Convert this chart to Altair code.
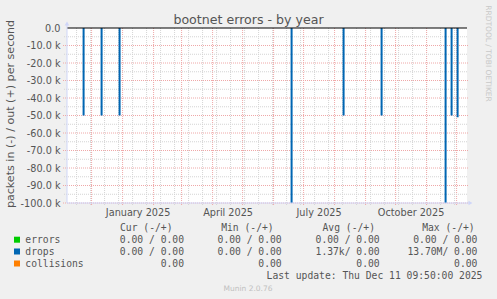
import altair as alt
import pandas as pd

# ---------------- data ----------------
spike_dates = ["2024-11-23", "2024-12-11", "2024-12-29", "2025-06-19", "2025-08-10",
               "2025-09-17", "2025-11-20", "2025-11-26", "2025-12-02"]
drops_in = [-50000, -50000, -50000, -13700000, -50000, -50000, -2000000, -50000, -51000]

x_label_dates = ["2025-01-16", "2025-04-16", "2025-07-16", "2025-10-16"]
y_ticks = [0, -10000, -20000, -30000, -40000, -50000, -60000, -70000, -80000, -90000, -100000]

series_names = ["errors", "drops", "collisions"]
series_colors = ["#00CC00", "#0066B3", "#FF8000"]
cur_vals = ["0.00 / 0.00", "0.00 / 0.00", "0.00"]
min_vals = ["0.00 / 0.00", "0.00 / 0.00", "0.00"]
avg_vals = ["0.00 / 0.00", "1.37k/ 0.00", "0.00"]
max_vals = ["0.00 / 0.00", "13.70M/ 0.00", "0.00"]
headers = ["Cur (-/+)", "Min (-/+)", "Avg (-/+)", "Max (-/+)"]

title_text = "bootnet errors - by year"
y_title = "packets in (-) / out (+) per second"
last_update = "Last update: Thu Dec 11 09:50:00 2025"

# ---------------- layout helpers ----------------
L, T = 67, 28          # plot origin in the page
W, H = 400, 175
end = pd.Timestamp("2025-12-11 09:50:00")
start = end - pd.Timedelta(days=400)

month_grid = [d.strftime("%Y-%m-%d") for d in pd.date_range("2024-12-01", "2025-12-01", freq="MS")]
minor_grid = [d.strftime("%Y-%m-%d") for d in pd.date_range("2024-11-16", "2025-12-10", freq="14D")]
ymajor = list(range(-100000, 0, 10000))
yminor = list(range(-95000, 0, 10000))

def dt(ts):
    ts = pd.Timestamp(ts)
    return alt.DateTime(year=ts.year, month=ts.month, date=ts.day, hours=ts.hour,
                        minutes=ts.minute, utc=True)

xscale = alt.Scale(type="utc", domain=[dt(start), dt(end)])
yscale = alt.Scale(domain=[-100000, 0], nice=False, zero=False, clamp=True)

AX_FONT = "DejaVu Sans"
MONO = "DejaVu Sans Mono"
TXT = "#555555"

xaxis = alt.Axis(values=[dt(d) for d in x_label_dates],
                 labelExpr="utcFormat(datum.value, '%B %Y')",
                 title=None, grid=False, domain=False, ticks=False, labelAngle=0,
                 labelFont=AX_FONT, labelFontSize=9.7, labelColor=TXT, labelPadding=4,
                 labelFlush=False, labelOverlap=False)
yaxis = alt.Axis(values=y_ticks,
                 labelExpr="datum.value == 0 ? '0.0' : '-' + format(abs(datum.value)/1000, '.1f') + ' k'",
                 title=None, grid=False, domain=False, ticks=False,
                 labelFont=AX_FONT, labelFontSize=9.7, labelColor=TXT, labelPadding=7)

def X(field="d"):
    return alt.X(f"{field}:T", scale=xscale, axis=xaxis)

def Y(field="v"):
    return alt.Y(f"{field}:Q", scale=yscale, axis=yaxis)

one = alt.Data(values=[{}])

def txt(s, x, y, size=9.7, font=MONO, color=TXT, align="left", baseline="middle", angle=0):
    return alt.Chart(one).mark_text(text=s, font=font, fontSize=size, color=color,
                                    align=align, baseline=baseline, angle=angle).encode(
        x=alt.value(x - L), y=alt.value(y - T))

layers = []

# vertical grids
minor_df = pd.DataFrame({"d": [d + "T00:00:00Z" for d in minor_grid]})
major_df = pd.DataFrame({"d": [d + "T00:00:00Z" for d in month_grid]})
layers.append(alt.Chart(minor_df).mark_rule(color="#D4D4D4", strokeDash=[1, 1], strokeWidth=1).encode(
    x=X(), y=alt.value(0), y2=alt.value(H + 3)))
layers.append(alt.Chart(major_df).mark_rule(color="#EFA8A8", strokeDash=[1, 1], strokeWidth=1).encode(
    x=X(), y=alt.value(0), y2=alt.value(H + 3)))

# horizontal grids
layers.append(alt.Chart(pd.DataFrame({"v": yminor})).mark_rule(color="#D4D4D4", strokeDash=[1, 1]).encode(
    y=Y(), x=alt.value(-3), x2=alt.value(W + 1)))
layers.append(alt.Chart(pd.DataFrame({"v": ymajor})).mark_rule(color="#EFA8A8", strokeDash=[1, 1]).encode(
    y=Y(), x=alt.value(-4), x2=alt.value(W + 1)))

# spikes (drops, inbound shown negative)
spikes = pd.DataFrame({"d": [d + "T00:00:00Z" for d in spike_dates], "v": drops_in, "z": 0})
layers.append(alt.Chart(spikes).mark_rule(color="#0066B3", strokeWidth=2).encode(
    x=X(), y=Y(), y2="z:Q"))

# zero line
layers.append(alt.Chart(pd.DataFrame({"v": [0]})).mark_rule(color="#000000", strokeWidth=1).encode(
    y=Y(), x=alt.value(0), x2=alt.value(W)))

# axis lines and arrows
AXC = "#CFD6F8"
layers.append(alt.Chart(one).mark_rule(color=AXC, strokeWidth=1).encode(
    x=alt.value(0), y=alt.value(-4), y2=alt.value(H)))
layers.append(alt.Chart(one).mark_rule(color=AXC, strokeWidth=1).encode(
    y=alt.value(H), x=alt.value(0), x2=alt.value(W + 2)))
layers.append(alt.Chart(one).mark_point(shape="triangle-up", filled=True, color=AXC, size=22, opacity=1).encode(
    x=alt.value(0), y=alt.value(-4.5)))
layers.append(alt.Chart(one).mark_point(shape="triangle-right", filled=True, color=AXC, size=22, opacity=1).encode(
    x=alt.value(W + 3.5), y=alt.value(H)))

# titles
layers.append(txt(title_text, 248.5, 24, size=12.6, font=AX_FONT, align="center", baseline="alphabetic"))
layers.append(txt(y_title, 11, 114, size=11.1, font=AX_FONT, align="center", angle=270))
layers.append(txt("RRDTOOL / TOBI OETIKER", 488.3, 53.5, size=7.5, font=AX_FONT, color="#C8C8C8",
                  align="center", angle=90))

# legend table
header_x = [120.0, 221.2, 322.5, 422.2]
for h, hx in zip(headers, header_x):
    layers.append(txt(h, hx, 227.7, align="left"))
row_y = [239.7, 251.5, 263.5]
col_right = [184.0, 281.7, 379.7, 477.4]
for i, name in enumerate(series_names):
    layers.append(alt.Chart(one).mark_square(size=36, color=series_colors[i], opacity=1).encode(
        x=alt.value(17 - L), y=alt.value(row_y[i] - T)))
    layers.append(txt(name, 25.3, row_y[i], align="left"))
    for col, cx in zip([cur_vals, min_vals, avg_vals, max_vals], col_right):
        layers.append(txt(col[i], cx, row_y[i], align="right"))
layers.append(txt(last_update, 482.4, 276, align="right"))
layers.append(txt("Munin 2.0.76", 248, 288.5, size=7.5, font=AX_FONT, color="#C0C0C0", align="center"))

chart = alt.layer(*layers).properties(
    width=W, height=H,
    autosize=alt.AutoSizeParams(type="none"),
    padding={"left": L, "top": T, "right": 497 - L - W, "bottom": 299 - T - H},
    background="#F0F0F0",
).configure_view(fill="#FFFFFF", strokeWidth=0)

chart.save("out.html", embed_options={"renderer": "svg", "actions": False})
